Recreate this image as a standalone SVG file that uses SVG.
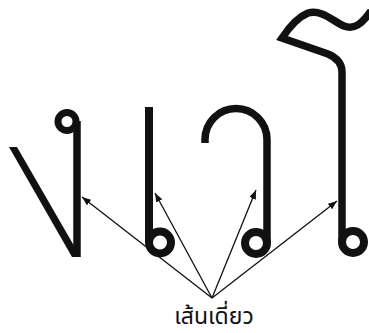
<svg xmlns="http://www.w3.org/2000/svg" width="369" height="333" viewBox="0 0 369 333">
<defs>
<style>
.conn{stroke:#111;stroke-width:1.3;fill:none;marker-end:url(#ah)}
.glyph{stroke:#111;fill:none;stroke-linecap:butt;stroke-linejoin:miter}
.loop{stroke:#111;fill:#fff}
.lbl{font-family:"Noto Sans Thai","Noto Sans","DejaVu Sans","Liberation Sans",sans-serif;font-size:23px;fill:#111;text-anchor:middle}
</style>
<marker id="ah" markerWidth="9" markerHeight="7" refX="9" refY="3.5" orient="auto" markerUnits="userSpaceOnUse">
<path d="M0,0 L9,3.5 L0,7 z" fill="#111"/>
</marker>
</defs>
<rect width="369" height="333" fill="#fff"/>
<g id="connectors">
<line class="conn" x1="212" y1="298" x2="82" y2="197"/>
<line class="conn" x1="212" y1="298" x2="155" y2="193"/>
<line class="conn" x1="212" y1="298" x2="256" y2="190"/>
<line class="conn" x1="212" y1="298" x2="337" y2="201"/>
</g>
<g id="letter-ngo">
<polygon points="9,147 17,147 80.5,257 72,257" fill="#111"/>
<line class="glyph" x1="77" y1="121" x2="77" y2="257" stroke-width="7.5"/>
<circle class="loop" cx="67" cy="121.5" r="9" stroke-width="7"/>
</g>
<g id="letter-sara-e">
<line class="glyph" x1="149" y1="107" x2="149" y2="243" stroke-width="8"/>
<circle class="loop" cx="160" cy="242.5" r="11" stroke-width="8"/>
</g>
<g id="letter-arch">
<path class="glyph" d="M205,143 L205,139.5 A31,31 0 0 1 267,139.5 L267,243" stroke-width="7.5"/>
<circle class="loop" cx="256" cy="243" r="11" stroke-width="8"/>
</g>
<g id="letter-sara-o">
<path class="glyph" d="M371,11 C362,24 354,30 344,26 C334,22 322,9 308,13 C298,17 290,26 282,38 L328,54 Q342,60 342,72 L342,242" stroke-width="7.5"/>
<circle class="loop" cx="353" cy="242" r="11" stroke-width="8"/>
</g>
<g id="label">
<text class="lbl" x="214" y="324">เส้นเดี่ยว</text>
</g>
</svg>
